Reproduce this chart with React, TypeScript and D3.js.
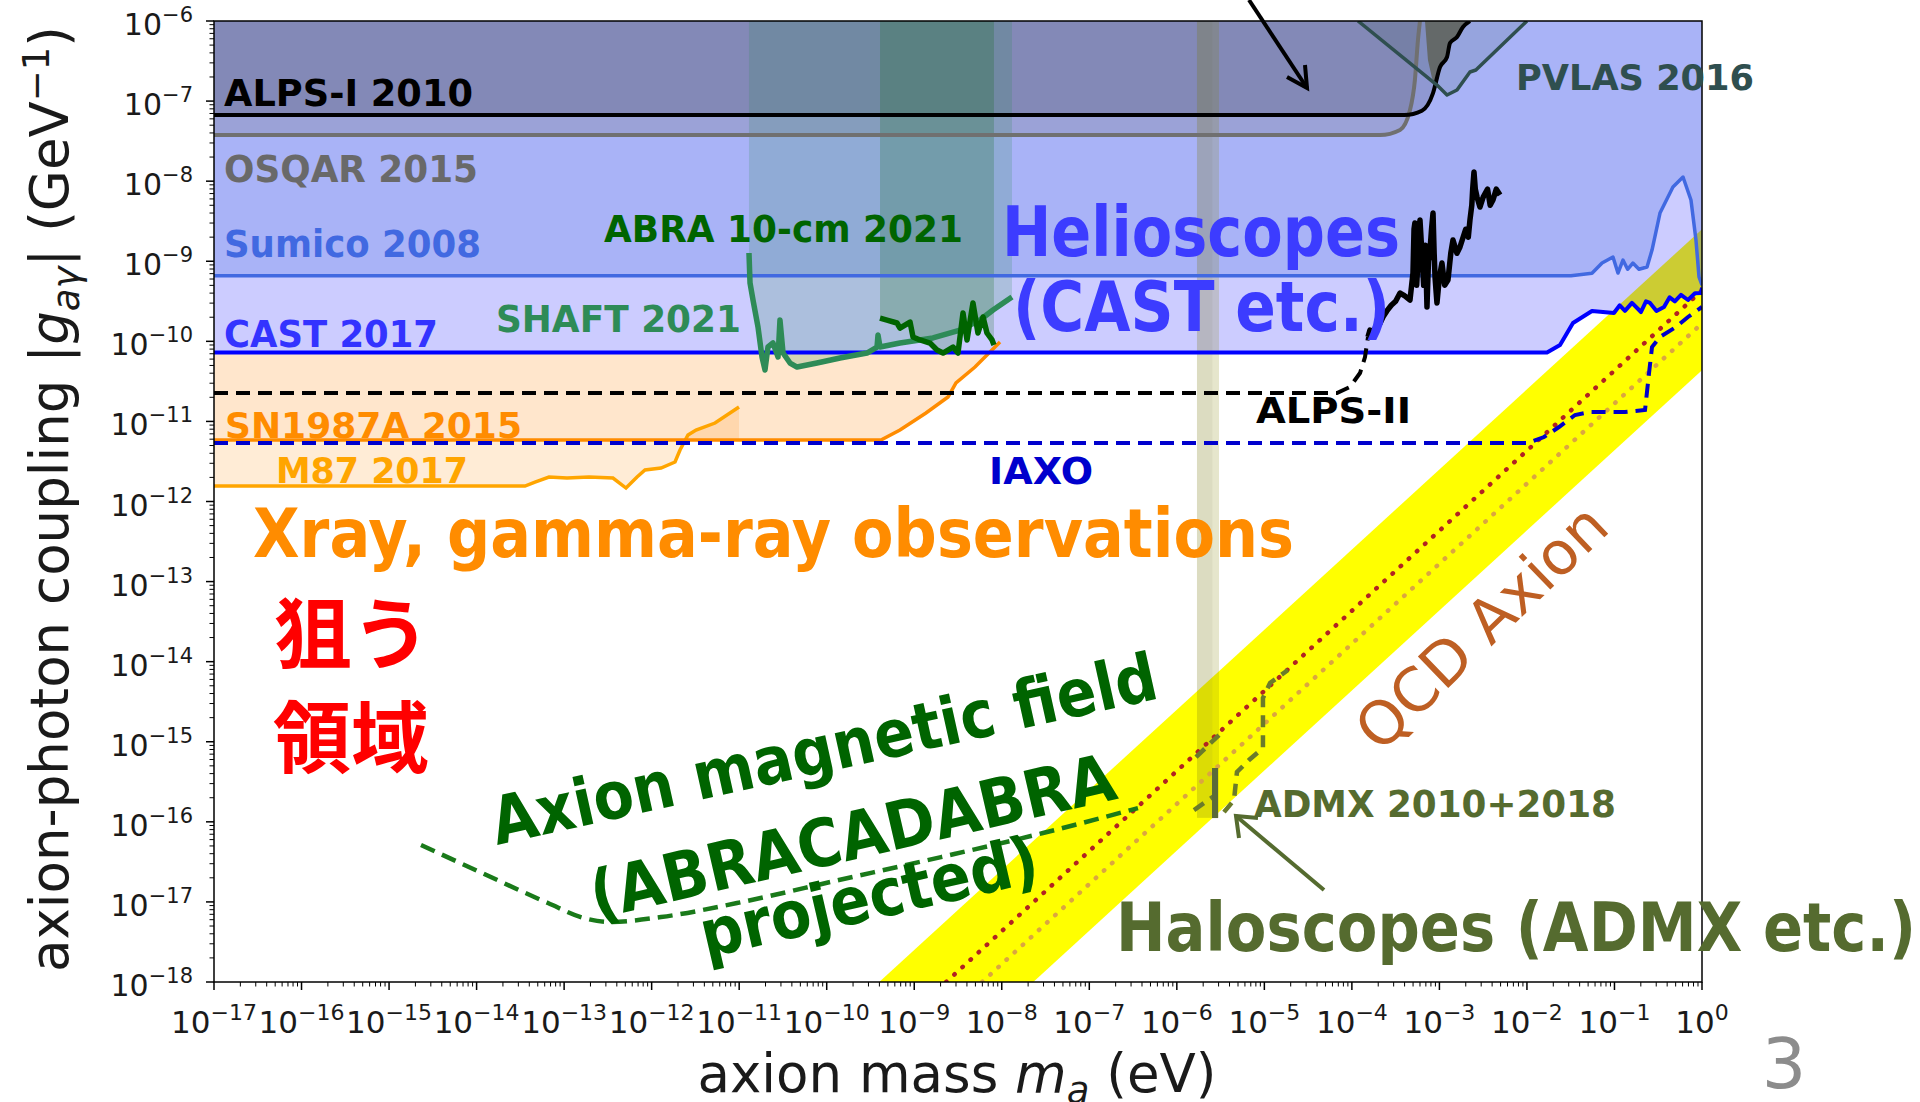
import React from 'react'
import * as d3 from 'd3'

// every limit is a list of [log10(m_a / eV), log10(|g_ay| / GeV^-1)]
const alpsI2010 = [[-17, -7.174], [-3.4, -7.174], [-3.2, -7.12], [-3.073, -6.9], [-2.993, -6.574], [-2.913, -6.45], [-2.879, -6.275], [-2.799, -6.2], [-2.731, -6.075], [-2.651, -6.0]]
const osqar2015 = [[-17, -7.424], [-3.679, -7.424], [-3.45, -7.36], [-3.336, -7.111], [-3.28, -6.737], [-3.245, -6.237], [-3.222, -6.0]]
const osqarEdge = [[-3.165, -6], [-3.131, -6.487], [-3.085, -6.712], [-3.028, -6.837], [-2.993, -6.574], [-2.913, -6.45], [-2.879, -6.275], [-2.799, -6.2], [-2.731, -6.075], [-2.651, -6.0]]
const sumico2008 = [[-17, -9.18], [-1.497, -9.18], [-1.257, -9.15], [-1.142, -9.022], [-1.017, -8.947], [-0.96, -9.147], [-0.903, -8.985], [-0.85, -9.1], [-0.79, -9.022], [-0.72, -9.1], [-0.628, -9.072], [-0.571, -8.86], [-0.48, -8.398], [-0.332, -8.073], [-0.217, -7.948], [-0.126, -8.235], [-0.069, -8.735], [-0.034, -9.197], [0, -9.3]]
const cast2017 = [[-17, -10.14], [-1.771, -10.14], [-1.622, -10.046], [-1.474, -9.771], [-1.257, -9.621], [-1.006, -9.646], [-0.94, -9.55], [-0.88, -9.62], [-0.8, -9.52], [-0.697, -9.634], [-0.64, -9.5], [-0.594, -9.52], [-0.52, -9.62], [-0.434, -9.571], [-0.37, -9.45], [-0.31, -9.5], [-0.24, -9.42], [-0.16, -9.484], [-0.08, -9.4], [-0.01, -9.397], [0, -9.33]]
const sn1987a = [[-17, -11.232], [-9.38, -11.232], [-9.163, -11.107], [-8.866, -10.895], [-8.614, -10.695], [-8.523, -10.52], [-8.306, -10.321], [-8.02, -10.009]]
const m87 = [[-17, -11.807], [-13.447, -11.807], [-13.333, -11.757], [-13.173, -11.694], [-12.967, -11.707], [-12.716, -11.694], [-12.442, -11.707], [-12.293, -11.832], [-12.167, -11.694], [-12.076, -11.607], [-11.893, -11.582], [-11.733, -11.507], [-11.676, -11.357], [-11.585, -11.17], [-11.493, -11.107], [-11.276, -11.02], [-11.002, -10.82]]
const alpsII = [[-17, -10.645], [-4.17, -10.645], [-4.022, -10.57], [-3.907, -10.396], [-3.85, -10.196], [-3.816, -9.946]]
const blackCurve = [[-3.816, -9.946], [-3.793, -9.859], [-3.76, -9.9], [-3.72, -9.8], [-3.68, -9.78], [-3.645, -9.696], [-3.6, -9.62], [-3.55, -9.55], [-3.5, -9.5], [-3.45, -9.397], [-3.4, -9.43], [-3.336, -9.484], [-3.302, -9.147], [-3.29, -8.6], [-3.28, -8.522], [-3.26, -9.3], [-3.25, -9.1], [-3.235, -8.7], [-3.222, -8.485], [-3.2, -8.9], [-3.18, -9.3], [-3.16, -8.8], [-3.142, -9.571], [-3.125, -9.0], [-3.11, -8.9], [-3.09, -8.6], [-3.073, -8.398], [-3.06, -8.9], [-3.05, -9.2], [-3.028, -9.521], [-3.0, -9.2], [-2.971, -9.022], [-2.94, -9.3], [-2.902, -9.234], [-2.87, -8.9], [-2.845, -8.735], [-2.8, -8.9], [-2.765, -8.822], [-2.7, -8.6], [-2.67, -8.7], [-2.651, -8.485], [-2.63, -8.3], [-2.62, -8.1], [-2.605, -7.886], [-2.59, -8.1], [-2.57, -8.2], [-2.537, -8.323], [-2.5, -8.2], [-2.45, -8.1], [-2.42, -8.3], [-2.388, -8.235], [-2.35, -8.1], [-2.308, -8.173]]
const iaxo = [[-17, -11.27], [-1.988, -11.27], [-1.805, -11.195], [-1.634, -11.07], [-1.451, -10.92], [-1.28, -10.883], [-0.88, -10.883], [-0.651, -10.858], [-0.605, -10.396], [-0.571, -10.071], [-0.48, -9.946], [-0.297, -9.821], [-0.16, -9.696], [0, -9.571]]
const pvlas2016 = [[-3.93, -6], [-3.028, -6.8], [-2.913, -6.924], [-2.799, -6.862], [-2.651, -6.637], [-2.583, -6.612], [-2.0, -6]]
const shaft2021 = [[-10.888, -8.897], [-10.876, -9.272], [-10.842, -9.484], [-10.785, -9.821], [-10.739, -10.196], [-10.705, -10.358], [-10.671, -10.071], [-10.614, -10.021], [-10.556, -10.196], [-10.534, -9.734], [-10.499, -10.146], [-10.419, -10.271], [-10.339, -10.321], [-10.111, -10.271], [-9.848, -10.208], [-9.54, -10.146], [-9.425, -10.071], [-9.414, -9.921], [-9.391, -10.071], [-9.163, -10.021], [-8.786, -9.958], [-8.477, -9.859], [-8.249, -9.734], [-8.1, -9.609], [-7.883, -9.447]]
const abra10cm = [[-9.391, -9.709], [-9.311, -9.734], [-9.197, -9.771], [-9.163, -9.834], [-9.048, -9.759], [-9.014, -9.946], [-8.934, -9.983], [-8.82, -10.021], [-8.74, -10.108], [-8.671, -10.146], [-8.557, -10.071], [-8.5, -10.146], [-8.443, -9.646], [-8.397, -9.983], [-8.329, -9.521], [-8.272, -9.896], [-8.214, -9.696], [-8.169, -9.896], [-8.111, -9.983], [-8.089, -10.046]]
const abracadabra = [[-14.635, -16.29], [-13.938, -16.639], [-13.184, -17.014], [-12.773, -17.201], [-12.476, -17.251], [-11.893, -17.189], [-11.025, -17.014], [-9.86, -16.727], [-8.694, -16.44], [-7.529, -16.14], [-6.444, -15.828]]
const admxDashed = [
  [[-5.804, -15.853], [-5.575, -15.678]],
  [[-5.781, -15.191], [-5.518, -14.916]],
  [[-5.461, -15.878], [-5.347, -15.728], [-5.313, -15.378], [-5.175, -15.228], [-5.016, -15.078], [-5.016, -14.454], [-4.935, -14.267], [-4.73, -14.104]],
]
const admxLine = [[-5.564, -15.328], [-5.564, -15.953]]
const admxBand = [-5.77, -5.518]
const admxBandBottom = -15.95
const qcdBand = [[-9.4, -18], [0, -8.6], [0, -10.36], [-7.64, -18]]
const ksvz = [[-8.635, -18], [0, -9.365]]
const dfsz = [[-8.224, -18], [0, -9.776]]

const massDecades = d3.range(-17, 1)
const couplingDecades = d3.range(-18, -5)

const plot = { left: 214, right: 1702, top: 21, bottom: 982 }
const sans = 'DejaVu Sans, Verdana, sans-serif'

function Label({ x, y, text, size, color, width, weight = 'bold', angle = 0 }) {
  return (
    <text x={x} y={y} fontSize={size} fill={color} fontWeight={weight} fontFamily={sans}
      textLength={width} lengthAdjust={width ? 'spacingAndGlyphs' : undefined}
      transform={angle ? `rotate(${angle},${x},${y})` : undefined}>{text}</text>
  )
}

export default function App() {
  const x = d3.scaleLog().domain([1e-17, 1]).range([plot.left, plot.right])
  const y = d3.scaleLog().domain([1e-18, 1e-6]).range([plot.bottom, plot.top])
  const line = d3.line<number[]>().x(d => x(10 ** d[0])).y(d => y(10 ** d[1]))
  const smooth = d3.line<number[]>().x(d => x(10 ** d[0])).y(d => y(10 ** d[1])).curve(d3.curveMonotoneX)
  const poly = (pts: number[][]) => line(pts) + 'Z'
  const toTop = (pts: number[][]) => poly([...pts, [pts[pts.length - 1][0], -6], [pts[0][0], -6]])

  // SN fill reaches only up to the CAST level
  const castLevel = cast2017[0][1]
  const snFill: number[][] = []
  for (let i = 0; i < sn1987a.length; i++) {
    const p = sn1987a[i]
    if (p[1] <= castLevel) snFill.push(p)
    else {
      const q = sn1987a[i - 1]
      const t = (castLevel - q[1]) / (p[1] - q[1])
      snFill.push([q[0] + t * (p[0] - q[0]), castLevel])
      break
    }
  }
  snFill.push([-17, castLevel])
  const m87End = m87[m87.length - 1][0]
  const m87Fill = [...m87, [m87End, sn1987a[0][1]], [-17, sn1987a[0][1]]]

  const minor = (decades: number[]) => decades.slice(0, -1).flatMap(e => d3.range(2, 10).map(k => e + Math.log10(k)))

  return (
    <svg width={1920} height={1102} style={{ position: 'absolute', left: 0, top: 0, background: '#fff' }}>
      <defs>
        <clipPath id="plotClip">
          <rect x={plot.left} y={plot.top} width={plot.right - plot.left} height={plot.bottom - plot.top} />
        </clipPath>
      </defs>
      <rect x={0} y={0} width={1920} height={1102} fill="#fff" />
      <g clipPath="url(#plotClip)">
        <path d={poly(qcdBand)} fill="#ffff00" />
        <path d={poly(m87Fill)} fill="rgba(255,160,50,0.2)" />
        <path d={poly(snFill)} fill="rgba(255,150,40,0.24)" />
        <path d={toTop(cast2017)} fill="rgba(0,0,255,0.2)" />
        <path d={toTop(sumico2008)} fill="rgba(65,105,225,0.25)" />
        <path d={toTop(osqar2015)} fill="rgba(105,105,105,0.22)" />
        <path d={toTop(alpsI2010)} fill="rgba(0,0,0,0.15)" />
        <path d={poly(osqarEdge)} fill="#6e6e6e" />
        <path d={poly(pvlas2016)} fill="rgba(47,79,79,0.15)" />
        <path d={toTop(shaft2021)} fill="rgba(46,139,87,0.2)" />
        <path d={toTop(abra10cm)} fill="rgba(0,100,0,0.2)" />
        <rect x={x(10 ** admxBand[0])} y={plot.top} width={x(10 ** admxBand[1]) - x(10 ** admxBand[0])}
          height={y(10 ** admxBandBottom) - plot.top} fill="rgba(128,128,0,0.2)" />
        <rect x={x(10 ** admxBand[0])} y={plot.top} width={(x(10 ** admxBand[1]) - x(10 ** admxBand[0])) * 0.7}
          height={y(10 ** admxBandBottom) - plot.top} fill="rgba(100,100,60,0.08)" />

        <path d={line(ksvz)} stroke="#b22222" strokeWidth={4.5} strokeDasharray="0.5 10.5" strokeLinecap="round" fill="none" />
        <path d={line(dfsz)} stroke="#dba640" strokeWidth={4.5} strokeDasharray="0.5 10.5" strokeLinecap="round" fill="none" />

        <path d={line(m87)} stroke="#ffa500" strokeWidth={3.5} fill="none" />
        <path d={line(sn1987a)} stroke="#ff8c00" strokeWidth={3.5} fill="none" />
        <path d={line(cast2017)} stroke="#0000ff" strokeWidth={4} fill="none" strokeLinejoin="round" />
        <path d={line(sumico2008)} stroke="#4169e1" strokeWidth={3.5} fill="none" strokeLinejoin="round" />
        <path d={smooth(osqar2015)} stroke="#707070" strokeWidth={4} fill="none" />
        <path d={smooth(alpsI2010)} stroke="#000" strokeWidth={4} fill="none" strokeLinejoin="round" />
        <path d={line(pvlas2016)} stroke="#2f4f4f" strokeWidth={3.5} fill="none" strokeLinejoin="round" />
        <path d={line(alpsII)} stroke="#000" strokeWidth={4} strokeDasharray="14 8" fill="none" />
        <path d={line(blackCurve)} stroke="#000" strokeWidth={5.5} fill="none" strokeLinejoin="round" />
        <path d={line(iaxo)} stroke="#0000cd" strokeWidth={4} strokeDasharray="14 8" fill="none" />
        <path d={line(shaft2021)} stroke="#2e8b57" strokeWidth={5.5} fill="none" strokeLinejoin="round" />
        <path d={line(abra10cm)} stroke="#006400" strokeWidth={5.5} fill="none" strokeLinejoin="round" />
        <path d={smooth(abracadabra)} stroke="#1a7a1a" strokeWidth={4.5} strokeDasharray="15 8" fill="none" />
        {admxDashed.map((seg, i) => (
          <path key={i} d={line(seg)} stroke="#6b7b2b" strokeWidth={4.5} strokeDasharray="12 8" fill="none" />
        ))}
        <path d={line(admxLine)} stroke="#5a6a3a" strokeWidth={6} fill="none" />
      </g>

      {/* frame and ticks */}
      <rect x={plot.left} y={plot.top} width={plot.right - plot.left} height={plot.bottom - plot.top} fill="none" stroke="#000" strokeWidth={1.5} />
      {massDecades.map(e => (
        <g key={'xm' + e}>
          <line x1={x(10 ** e)} x2={x(10 ** e)} y1={plot.bottom} y2={plot.bottom + 8} stroke="#000" strokeWidth={1.5} />
          <text x={x(10 ** e)} y={1033} fontSize={31} fontFamily={sans} fill="#1a1a1a" textAnchor="middle">
            10<tspan fontSize={22} dy={-13}>{e === 0 ? '0' : '\u2212' + -e}</tspan>
          </text>
        </g>
      ))}
      {minor(massDecades).map(v => (
        <line key={'xn' + v} x1={x(10 ** v)} x2={x(10 ** v)} y1={plot.bottom} y2={plot.bottom + 4.5} stroke="#000" strokeWidth={1} />
      ))}
      {couplingDecades.map(e => (
        <g key={'ym' + e}>
          <line x1={plot.left - 8} x2={plot.left} y1={y(10 ** e)} y2={y(10 ** e)} stroke="#000" strokeWidth={1.5} />
          <text x={193} y={y(10 ** e) + 14} fontSize={30} fontFamily={sans} fill="#1a1a1a" textAnchor="end">
            10<tspan fontSize={21} dy={-13}>{'\u2212' + -e}</tspan>
          </text>
        </g>
      ))}
      {minor(couplingDecades).map(v => (
        <line key={'yn' + v} x1={plot.left - 4.5} x2={plot.left} y1={y(10 ** v)} y2={y(10 ** v)} stroke="#000" strokeWidth={1} />
      ))}

      <text x={957} y={1092} fontSize={53} fontFamily={sans} fill="#1a1a1a" textAnchor="middle">
        axion mass <tspan fontStyle="italic">m</tspan><tspan fontSize={37} dy={11} fontStyle="italic">a</tspan><tspan dy={-11}> (eV)</tspan>
      </text>
      <text transform="translate(68,499) rotate(-90)" fontSize={53} fontFamily={sans} fill="#1a1a1a" textAnchor="middle">
        axion-photon coupling |<tspan fontStyle="italic">g</tspan><tspan fontSize={37} dy={11} fontStyle="italic">aγ</tspan><tspan dy={-11}>| (GeV</tspan><tspan fontSize={37} dy={-19}>{'\u22121'}</tspan><tspan dy={19}>)</tspan>
      </text>

      {/* arrows */}
      <line x1={1249} y1={0} x2={1307} y2={88} stroke="#000" strokeWidth={4} />
      <path d="M1287,77 L1307,88 L1305,65" stroke="#000" strokeWidth={4} fill="none" />
      <line x1={1324} y1={890} x2={1236} y2={816} stroke="#556b2f" strokeWidth={4} />
      <path d="M1239,838 L1236,816 L1258,818" stroke="#556b2f" strokeWidth={4} fill="none" />

      {/* labels */}
      <Label x={224} y={106} text="ALPS-I 2010" size={37} color="#000" width={249} />
      <Label x={224} y={182} text="OSQAR 2015" size={37} color="#696969" width={254} />
      <Label x={224} y={257} text="Sumico 2008" size={37} color="#4169e1" width={257} />
      <Label x={224} y={347} text="CAST 2017" size={37} color="#3333ff" width={214} />
      <Label x={496} y={332} text="SHAFT 2021" size={37} color="#2e8b57" width={245} />
      <Label x={604} y={242} text="ABRA 10-cm 2021" size={37} color="#006400" width={359} />
      <Label x={1002} y={256} text="Helioscopes" size={70} color="#3c3cff" width={398} />
      <Label x={1013} y={331} text="(CAST etc.)" size={70} color="#3c3cff" width={377} />
      <Label x={1516} y={90} text="PVLAS 2016" size={35} color="#2f4f4f" width={238} />
      <Label x={1256} y={423} text="ALPS-II" size={36} color="#000" width={155} />
      <Label x={989} y={484} text="IAXO" size={38} color="#0000cd" width={104} />
      <Label x={225} y={438} text="SN1987A 2015" size={36} color="#ff8c00" width={297} />
      <Label x={276} y={483} text="M87 2017" size={36} color="#ffa500" width={192} />
      <Label x={253} y={557} text="Xray, gamma-ray observations" size={68} color="#ff8c00" width={1041} />
      <text x={352} y={663} fontSize={78} fontWeight="bold" fill="#ff0000" textAnchor="middle" fontFamily="Noto Sans CJK JP, sans-serif">狙う</text>
      <text x={351} y={767} fontSize={78} fontWeight="bold" fill="#ff0000" textAnchor="middle" fontFamily="Noto Sans CJK JP, sans-serif">領域</text>
      <Label x={497} y={845} text="Axion magnetic field" size={66} color="#006400" width={680} angle={-12.5} />
      <Label x={596} y={919} text="(ABRACADABRA" size={66} color="#006400" width={537} angle={-13} />
      <Label x={706} y={958} text="projected)" size={66} color="#006400" width={345} angle={-13} />
      <Label x={1116} y={951} text="Haloscopes (ADMX etc.)" size={68} color="#556b2f" width={800} />
      <Label x={1254} y={817} text="ADMX 2010+2018" size={37} color="#556b2f" width={362} />
      <Label x={1380} y={754} text="QCD Axion" size={60} color="#be5f23" weight="normal" angle={-44} />
      <text x={1784} y={1088} fontSize={70} fill="#8c8c8c" textAnchor="middle" fontFamily={sans}>3</text>
    </svg>
  )
}
